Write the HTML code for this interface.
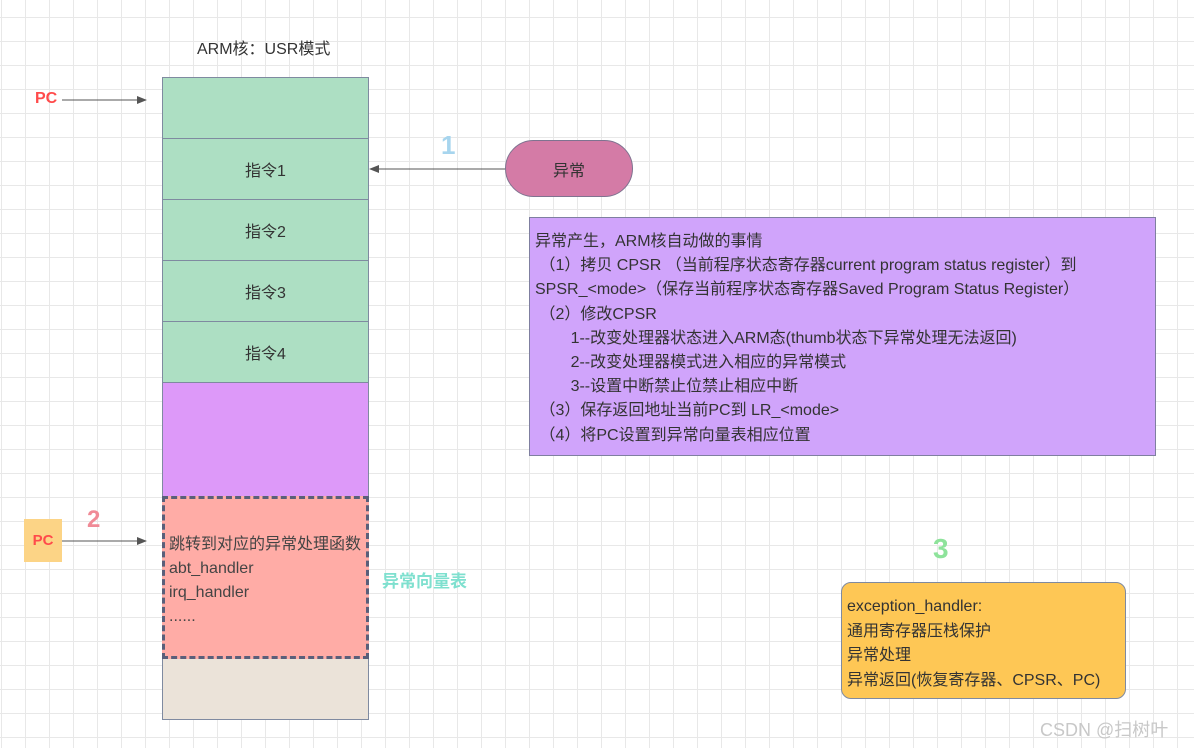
<!DOCTYPE html>
<html><head><meta charset="utf-8"><style>
body{margin:0;width:1194px;height:748px;overflow:hidden;background:#fff;
background-image:linear-gradient(#e8e8e8 1px,transparent 1px),linear-gradient(90deg,#e8e8e8 1px,transparent 1px);
background-size:24px 24px;background-position:1px 17px;
font-family:"Liberation Sans","Noto Sans CJK SC",sans-serif;color:#333;position:relative}
.a{position:absolute;box-sizing:border-box}
.cell{left:162px;width:207px;border:1px solid #7f8aa0;display:flex;align-items:center;justify-content:center;font-size:16px}
.g{background:#addfc3}
</style></head><body>
<div class="a" style="left:197px;top:35px;font-size:16px">ARM核：USR模式</div>
<div class="a" style="left:35px;top:90px;font-size:16px;font-weight:bold;color:#ff4b4b">PC</div>
<svg class="a" style="left:0;top:0" width="1194" height="748">
<defs><marker id="m" markerWidth="10" markerHeight="8" refX="9" refY="4" orient="auto"><path d="M0,0L10,4L0,8z" fill="#555"/></marker></defs>
<line x1="62" y1="100" x2="146" y2="100" stroke="#555" stroke-width="1" marker-end="url(#m)"/>
<line x1="505" y1="169" x2="370" y2="169" stroke="#555" stroke-width="1" marker-end="url(#m)"/>
<line x1="62" y1="541" x2="146" y2="541" stroke="#555" stroke-width="1" marker-end="url(#m)"/>
</svg>
<div class="a cell g" style="top:77px;height:62px"></div>
<div class="a cell g" style="top:138px;height:62px">指令1</div>
<div class="a cell g" style="top:199px;height:62px">指令2</div>
<div class="a cell g" style="top:260px;height:62px">指令3</div>
<div class="a cell g" style="top:321px;height:62px">指令4</div>
<div class="a cell" style="top:382px;height:115px;background:#dd99f9"></div>
<div class="a cell" style="top:658px;height:62px;background:#ebe3d9"></div>
<div class="a" style="left:162px;top:496px;width:207px;height:163px;background:#ffaca6;border:3px dashed #5a5f7a;padding:34px 0 0 4px;font-size:16px;line-height:24px;color:#444;white-space:nowrap">跳转到对应的异常处理函数<br>abt_handler<br>irq_handler<br>......</div>
<div class="a" style="left:382px;top:567px;font-size:17px;font-weight:bold;color:#7fe0cf">异常向量表</div>
<div class="a" style="left:24px;top:519px;width:38px;height:43px;background:#fcd486;color:#ff4b4b;font-weight:bold;font-size:15px;display:flex;align-items:center;justify-content:center">PC</div>
<div class="a" style="left:87px;top:506px;font-size:24px;font-weight:bold;color:#f08a96">2</div>
<div class="a" style="left:441px;top:130px;font-size:26px;font-weight:bold;color:#a7d5ee">1</div>
<div class="a" style="left:933px;top:533px;font-size:28px;font-weight:bold;color:#8ee39b">3</div>
<div class="a" style="left:505px;top:140px;width:128px;height:57px;border-radius:29px;background:#d47ba6;border:1px solid #7f7390;display:flex;align-items:center;justify-content:center;font-size:16px">异常</div>
<div class="a" style="left:529px;top:217px;width:627px;height:239px;background:#d0a4fb;border:1px solid #7f7fa0;padding:12px 0 0 5px;font-size:16px;line-height:24.2px;white-space:pre;color:#333">异常产生，ARM核自动做的事情
 （1）拷贝 CPSR （当前程序状态寄存器current program status register）到
SPSR_&lt;mode&gt;（保存当前程序状态寄存器Saved Program Status Register）
 （2）修改CPSR
        1--改变处理器状态进入ARM态(thumb状态下异常处理无法返回)
        2--改变处理器模式进入相应的异常模式
        3--设置中断禁止位禁止相应中断
 （3）保存返回地址当前PC到 LR_&lt;mode&gt;
 （4）将PC设置到异常向量表相应位置</div>
<div class="a" style="left:841px;top:582px;width:285px;height:117px;background:#fec755;border:1px solid #7f8aa0;border-radius:10px;padding:12px 0 0 5px;font-size:16px;line-height:24.5px;color:#333">exception_handler:<br>通用寄存器压栈保护<br>异常处理<br>异常返回(恢复寄存器、CPSR、PC)</div>
<div class="a" style="left:1040px;top:716px;font-size:18px;color:#c8c8c8">CSDN @扫树叶</div>
</body></html>
